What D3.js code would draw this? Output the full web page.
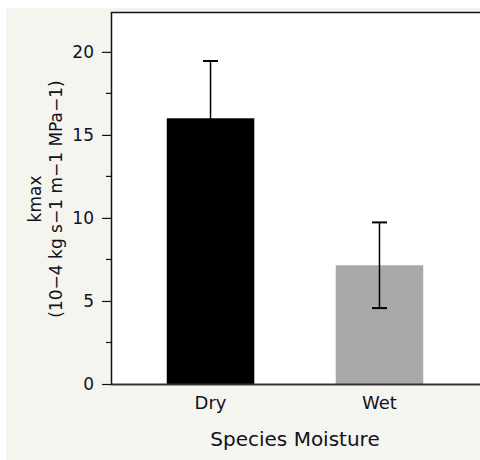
<!DOCTYPE html>
<html><head><meta charset="utf-8">
<script src="https://cdn.jsdelivr.net/npm/d3@7"></script>
<style>
html,body{margin:0;padding:0;background:#fff;}
svg{display:block;}
text{font-family:"DejaVu Sans",sans-serif;fill:#111122;}
</style></head>
<body>
<svg id="chart" width="480" height="460"></svg>
<script>
const categories = ["Dry", "Wet"];
const means = [16.0, 7.15];
const errors = [3.45, 2.58];
const barColors = ["#000000", "#a9a9a9"];
const yTicks = [0, 5, 10, 15, 20];
const yMinorTicks = [2.5, 7.5, 12.5, 17.5];
const xTitle = "Species Moisture";
const yTitle = ["kmax", "(10\u22124 kg s\u22121 m\u22121 MPa\u22121)"];

(function () {
const svg = d3.select("#chart");
const W = 480, H = 460;
const mLeft = 111, mRight = 479, mTop = 12, mBottom = 384;

svg.append("rect").attr("x", 6).attr("y", 8).attr("width", W - 6).attr("height", H - 8).attr("fill", "#f5f5f0");
svg.append("rect").attr("x", mLeft).attr("y", mTop).attr("width", W - mLeft).attr("height", mBottom - mTop).attr("fill", "#fff");

const x = d3.scaleBand().domain(categories).range([mLeft, mRight]).paddingInner(0.482).paddingOuter(0.33);
const y = d3.scaleLinear().domain([0, 22.4]).range([mBottom, mTop]);

const data = categories.map((c, i) => ({c, m: means[i], e: errors[i], col: barColors[i]}));

svg.selectAll("rect.bar").data(data).enter().append("rect").attr("class", "bar")
  .attr("x", d => x(d.c)).attr("width", x.bandwidth())
  .attr("y", d => y(d.m)).attr("height", d => y(0) - y(d.m))
  .attr("fill", d => d.col);

const cx = d => x(d.c) + x.bandwidth() / 2;
const eb = svg.selectAll("g.err").data(data).enter().append("g").attr("class", "err")
  .attr("stroke", "#000").attr("stroke-width", 1.5);
eb.append("line").attr("x1", cx).attr("x2", cx)
  .attr("y1", d => y(d.m - d.e)).attr("y2", d => y(d.m + d.e));
eb.append("line").attr("x1", d => cx(d) - 7.5).attr("x2", d => cx(d) + 7.5)
  .attr("y1", d => y(d.m + d.e)).attr("y2", d => y(d.m + d.e)).attr("stroke-width", 2);
eb.append("line").attr("x1", d => cx(d) - 7.5).attr("x2", d => cx(d) + 7.5)
  .attr("y1", d => y(d.m - d.e)).attr("y2", d => y(d.m - d.e)).attr("stroke-width", 2);

svg.append("line").attr("x1", mLeft).attr("x2", W).attr("y1", mTop + 0.5).attr("y2", mTop + 0.5)
  .attr("stroke", "#111").attr("stroke-width", 1.5);

const yAxis = d3.axisLeft(y).tickValues(yTicks).tickSize(9).tickPadding(8).tickSizeOuter(0);
const gy = svg.append("g").attr("transform", `translate(${mLeft},0)`).call(yAxis);
gy.select(".domain").attr("stroke", "#111").attr("stroke-width", 1.5).attr("d", `M0.5,${mTop}V${mBottom}`);
gy.selectAll(".tick line").attr("stroke", "#111").attr("stroke-width", 1.2);
gy.selectAll(".tick text").attr("font-size", 17).attr("font-family", "DejaVu Sans").attr("fill", "#111122");
svg.append("g").selectAll("line").data(yMinorTicks).enter().append("line")
  .attr("x1", mLeft - 5).attr("x2", mLeft).attr("y1", d => y(d)).attr("y2", d => y(d))
  .attr("stroke", "#111").attr("stroke-width", 1.2);

const xAxis = d3.axisBottom(x).tickSize(0).tickPadding(12);
const gx = svg.append("g").attr("transform", `translate(0,${mBottom})`).call(xAxis);
gx.select(".domain").attr("stroke", "#333").attr("stroke-width", 2).attr("d", `M${mLeft},0.5H${W}`);
gx.selectAll(".tick text").attr("font-size", 18).attr("font-family", "DejaVu Sans").attr("fill", "#111122");

svg.append("text").attr("x", (x("Dry") + x("Wet") + x.bandwidth()) / 2).attr("y", 446)
  .attr("text-anchor", "middle").attr("font-size", 20).text(xTitle);

const yt = svg.append("text").attr("transform", `translate(41,${(mTop + mBottom) / 2 + 1}) rotate(-90)`)
  .attr("text-anchor", "middle").attr("font-size", 17);
yt.append("tspan").attr("x", 0).attr("dy", 0).text(yTitle[0]);
yt.append("tspan").attr("x", 0).attr("dy", 21).text(yTitle[1]);
})();
</script>
</body></html>
